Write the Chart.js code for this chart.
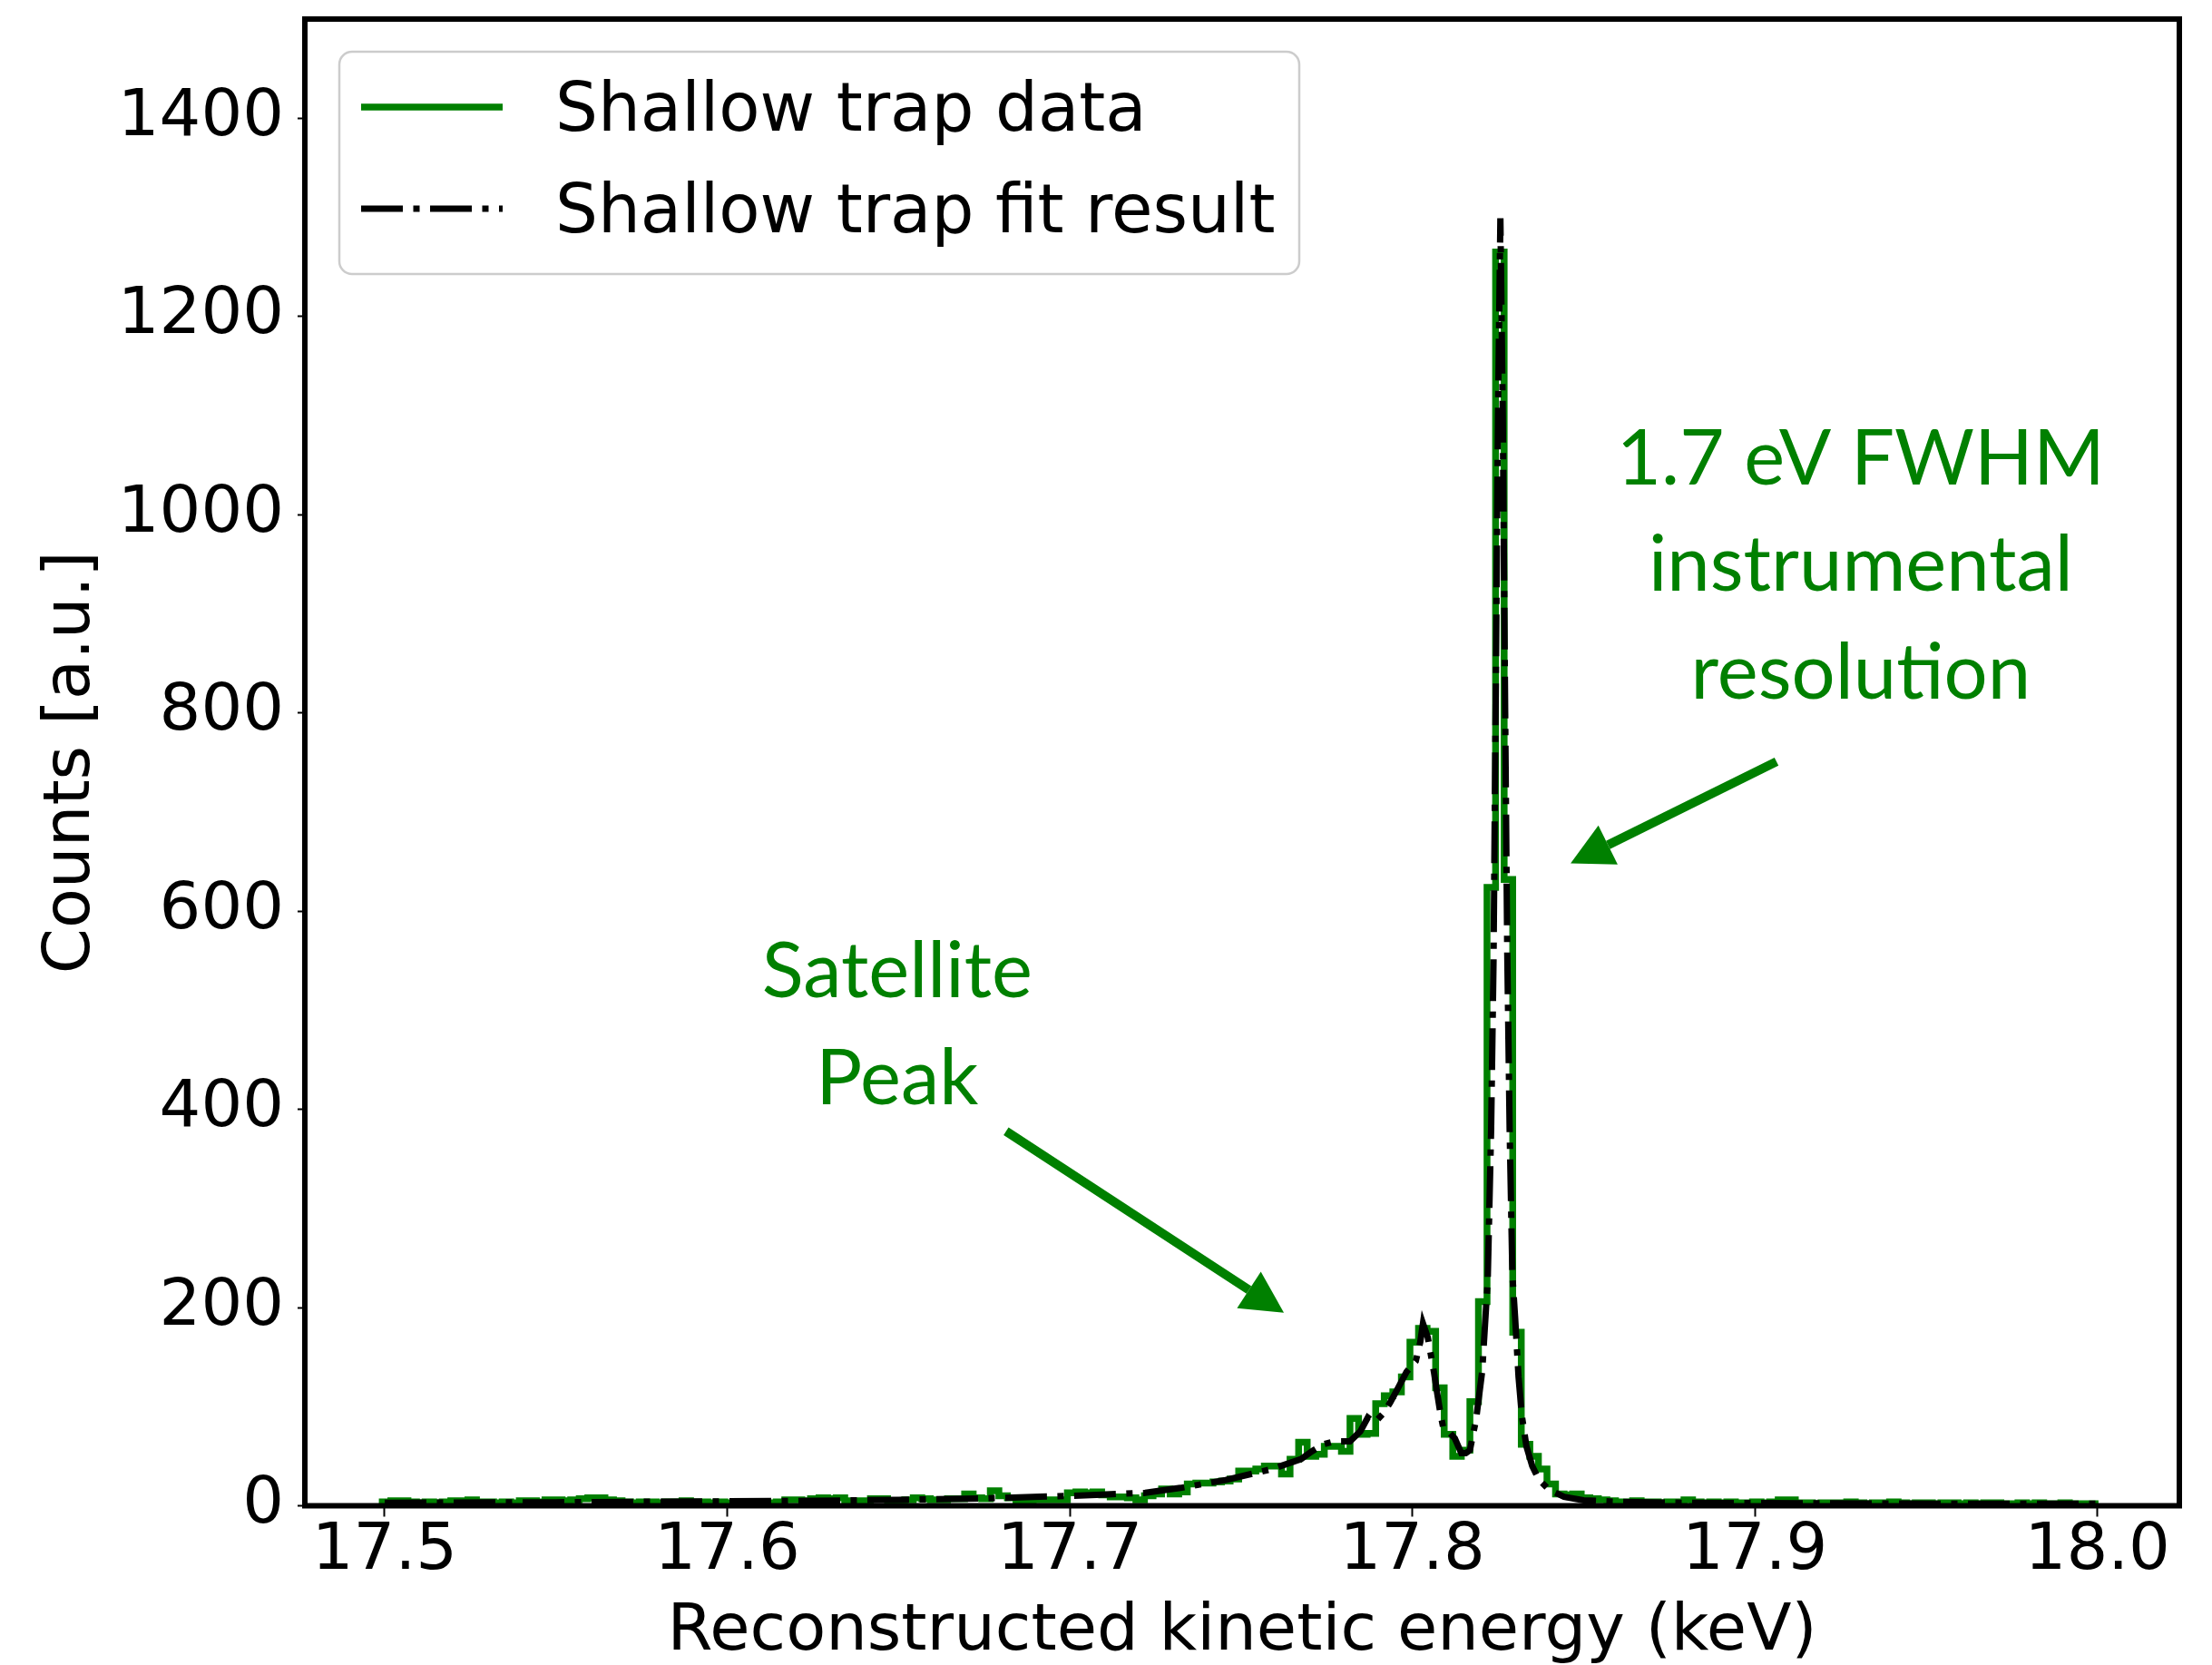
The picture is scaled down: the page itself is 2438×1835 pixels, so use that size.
<!DOCTYPE html>
<html>
<head>
<meta charset="utf-8">
<script src="https://cdn.jsdelivr.net/npm/chart.js@4.4.1/dist/chart.umd.min.js"></script>
<style>
html, body { margin: 0; padding: 0; background: #fff; }
#wrap { width: 2438px; height: 1835px; }
</style>
</head>
<body>
<div id="wrap"><canvas id="myChart" width="2438" height="1835"></canvas></div>
<script>
/* Shallow trap spectrum: histogram of data + fit curve, with two notes. */
"use strict";

// histogram bins (keV)
const binStart = 17.4993;
const binWidth = 0.0025;
// counts per bin
const dataCounts = [
    4,5,5,4,3,4,3,4,5,5, 6,4,4,3,4,3,5,5,4,6,
    6,5,6,7,8,8,6,5,4,3, 4,4,3,4,4,5,4,4,3,4,
    3,3,2,3,3,3,4,6,6,5, 7,8,7,8,5,5,5,7,7,5,
    5,6,8,7,6,6,7,7,12,8, 7,15,10,8,5,4,6,6,6,6,
    13,14,13,14,11,9,9,8,6,10, 12,17,12,14,22,23,23,24,25,27,
    35,35,37,40,40,32,47,64,50,52, 60,60,55,88,72,73,103,111,115,130,
    165,179,176,119,72,50,56,105,206,624, 1265,632,175,62,50,37,22,12,11,12,
    8,7,6,5,4,4,5,4,4,3, 4,4,6,4,3,4,3,4,3,3,
    4,3,4,6,6,3,3,2,3,3, 3,4,3,2,3,3,4,3,2,3,
    3,2,3,3,2,3,2,3,3,2, 2,3,2,3,2,2,3,2,2,2
];

// fit curve
const fitEnergy = [
    17.50, 17.55, 17.60, 17.625, 17.65, 17.675, 17.70, 17.711, 17.722, 17.7323,
    17.7455, 17.759, 17.7675, 17.7707, 17.774, 17.7774, 17.7818, 17.7848, 17.787, 17.789,
    17.7915, 17.7935, 17.7957, 17.7983, 17.801, 17.8023, 17.8031, 17.8045, 17.8063, 17.8071,
    17.8082, 17.809, 17.8108, 17.8124, 17.8143, 17.8156, 17.8168, 17.8186, 17.8204, 17.8212,
    17.822, 17.823, 17.8237, 17.8243, 17.825, 17.8257, 17.8264, 17.8271, 17.8277, 17.8284,
    17.8292, 17.830, 17.831, 17.832, 17.8333, 17.835, 17.837, 17.840, 17.8443, 17.850,
    17.86, 17.88, 17.92, 17.97, 18.0
];
const fitCounts = [
    3, 3.5, 4.5, 5, 6, 7.5, 10, 11.5, 13, 18,
    26, 37, 47, 55, 62, 65, 65, 75, 89, 84,
    93, 104, 118, 135, 146, 165, 184, 170, 135, 117,
    93, 79, 74, 68, 53, 53, 56, 87, 136, 182,
    227, 380, 550, 800, 1100, 1299, 1100, 800, 560, 380,
    233, 190, 130, 90, 60, 40, 26, 16, 9, 5.5,
    4, 3, 2.5, 2, 2
];

const xTicks = [17.5, 17.6, 17.7, 17.8, 17.9, 18.0];
const yTicks = [0, 200, 400, 600, 800, 1000, 1200, 1400];

const GREEN = "#008000";
const AXIS_FONT = {family: "DejaVu Sans", size: 72};

// step outline points for the histogram
function histPoints(){
    const pts = [{x: binStart, y: 0}];
    dataCounts.forEach((c, i) => {
        pts.push({x: binStart + i * binWidth, y: c});
    });
    const last = binStart + dataCounts.length * binWidth;
    pts.push({x: last, y: dataCounts[dataCounts.length - 1]});
    pts.push({x: last, y: 0});
    return pts;
}

const fitPoints = fitEnergy.map((e, i) => ({x: e, y: fitCounts[i]}));

// notes drawn on the plot, positioned in data units
const notes = [
    {lines: ["1.7 eV FWHM", "instrumental", "resolution"], x: 17.9309, y: [1030, 922.8, 814.7]},
    {lines: ["Satellite", "Peak"], x: 17.6496, y: [513.5, 405.4]}
];
const arrows = [
    {from: [17.9063, 750.8], to: [17.8462, 648.1]},
    {from: [17.6814, 377.9], to: [17.7625, 194.7]}
];

const framePlugin = {
    id: "frame",
    afterDatasetsDraw(chart){
        const {ctx, chartArea: a} = chart;
        ctx.save();
        ctx.strokeStyle = "#000";
        ctx.lineWidth = 6;
        ctx.strokeRect(a.left, a.top, a.right - a.left, a.bottom - a.top);
        ctx.restore();
    }
};

const notePlugin = {
    id: "notes",
    afterDraw(chart){
        const {ctx} = chart;
        const xs = chart.scales.x, ys = chart.scales.y;
        ctx.save();
        ctx.fillStyle = GREEN;
        ctx.strokeStyle = GREEN;
        ctx.font = "85px Lato";
        ctx.textAlign = "center";
        ctx.textBaseline = "alphabetic";
        notes.forEach(n => {
            n.lines.forEach((t, i) => {
                ctx.fillText(t, xs.getPixelForValue(n.x), ys.getPixelForValue(n.y[i]));
            });
        });
        arrows.forEach(ar => {
            const x0 = xs.getPixelForValue(ar.from[0]), y0 = ys.getPixelForValue(ar.from[1]);
            const x1 = xs.getPixelForValue(ar.to[0]), y1 = ys.getPixelForValue(ar.to[1]);
            const ang = Math.atan2(y1 - y0, x1 - x0);
            const headLen = 46, headHalf = 24;
            const bx = x1 - headLen * Math.cos(ang), by = y1 - headLen * Math.sin(ang);
            ctx.lineWidth = 10;
            ctx.beginPath();
            ctx.moveTo(x0, y0);
            ctx.lineTo(bx, by);
            ctx.stroke();
            ctx.beginPath();
            ctx.moveTo(x1, y1);
            ctx.lineTo(bx + headHalf * Math.sin(ang), by - headHalf * Math.cos(ang));
            ctx.lineTo(bx - headHalf * Math.sin(ang), by + headHalf * Math.cos(ang));
            ctx.closePath();
            ctx.fill();
        });
        ctx.restore();

        // legend box, upper left inside the axes
        const a = chart.chartArea;
        const bx = a.left + 38, by = a.top + 36, bw = 1058, bh = 245;
        ctx.save();
        ctx.beginPath();
        ctx.roundRect(bx, by, bw, bh, 14);
        ctx.fillStyle = "rgba(255,255,255,0.8)";
        ctx.fill();
        ctx.strokeStyle = "#cccccc";
        ctx.lineWidth = 2.5;
        ctx.stroke();
        ctx.font = "74px 'DejaVu Sans'";
        ctx.textAlign = "left";
        ctx.textBaseline = "alphabetic";
        ctx.fillStyle = "#000";
        const order = [1, 0];
        order.forEach((di, row) => {
            const ds = chart.data.datasets[di];
            const ly = by + 61 + row * 112;
            ctx.strokeStyle = ds.borderColor;
            ctx.lineWidth = ds.borderWidth;
            ctx.setLineDash(ds.borderDash || []);
            ctx.beginPath();
            ctx.moveTo(bx + 24, ly);
            ctx.lineTo(bx + 180, ly);
            ctx.stroke();
            ctx.setLineDash([]);
            ctx.fillText(ds.label, bx + 238, ly + 26);
        });
        ctx.restore();
    }
};

Chart.defaults.font.family = "DejaVu Sans";
Chart.defaults.color = "#000";

const ctx = document.getElementById("myChart").getContext("2d");
const myChart = new Chart(ctx, {
    type: "line",
    data: {
        datasets: [{
            label: "Shallow trap fit result",
            data: fitPoints,
            borderColor: "#000",
            borderWidth: 7,
            borderDash: [46, 11.5, 7, 11.5],
            borderCapStyle: "butt",
            pointRadius: 0,
            tension: 0,
            fill: false,
            order: 0
        }, {
            label: "Shallow trap data",
            data: histPoints(),
            borderColor: GREEN,
            borderWidth: 7.5,
            stepped: "before",
            borderJoinStyle: "miter",
            pointRadius: 0,
            fill: false,
            order: 1
        }]
    },
    options: {
        responsive: false,
        animation: false,
        devicePixelRatio: 1,
        layout: {padding: {top: 21, right: 36, left: 0, bottom: 0}},
        plugins: {legend: {display: false}, tooltip: {enabled: false}},
        scales: {
            x: {
                type: "linear",
                min: 17.4767,
                max: 18.0239,
                afterBuildTicks: s => { s.ticks = xTicks.map(v => ({value: v})); },
                afterFit: s => { s.height = 175.5; s.paddingLeft = 0; s.paddingRight = 0; },
                ticks: {
                    callback: v => Number(v).toFixed(1),
                    font: AXIS_FONT, color: "#000", padding: -4,
                    maxRotation: 0, autoSkip: false
                },
                grid: {drawOnChartArea: false, tickLength: 12, tickWidth: 2, tickColor: "#000"},
                border: {display: false},
                title: {
                    display: true, text: "Reconstructed kinetic energy (keV)",
                    font: AXIS_FONT, color: "#000", padding: {top: 0, bottom: -7}
                }
            },
            y: {
                type: "linear",
                min: 0,
                max: 1500,
                afterBuildTicks: s => { s.ticks = yTicks.map(v => ({value: v})); },
                afterFit: s => { s.width = 336; s.paddingTop = 0; s.paddingBottom = 0; },
                ticks: {font: AXIS_FONT, color: "#000", padding: 15, callback: v => String(v)},
                grid: {drawOnChartArea: false, tickLength: 8, tickWidth: 2, tickColor: "#000"},
                border: {display: false},
                title: {
                    display: true, text: "Counts [a.u.]",
                    font: AXIS_FONT, color: "#000", padding: {top: 36, bottom: 0}
                }
            }
        }
    },
    plugins: [framePlugin, notePlugin]
});
</script>
</body>
</html>
